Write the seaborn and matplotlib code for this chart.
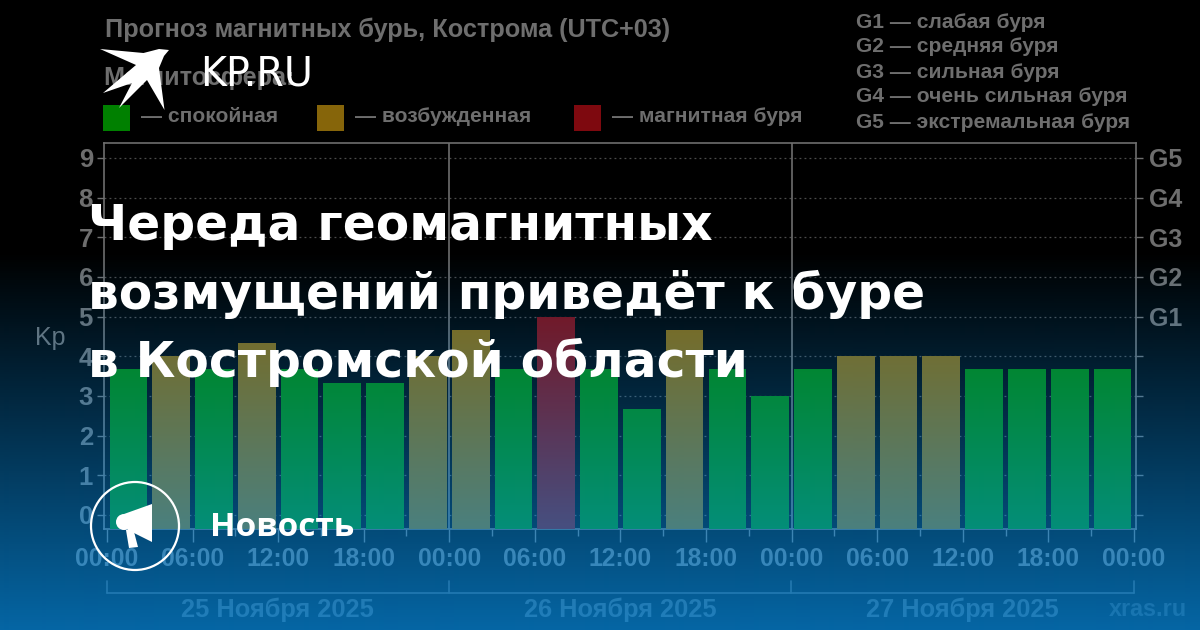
#!/usr/bin/env python3
"""Прогноз магнитных бурь, Кострома - обложка новости KP.RU"""

import numpy as np
import pandas as pd
import matplotlib.pyplot as plt
import seaborn as sns
from matplotlib.patches import Circle, Polygon, Rectangle

W, H = 1200, 630

# Данные графика
DAYS = ["25 Ноября 2025", "26 Ноября 2025", "27 Ноября 2025"]
HOURS = ["00:00", "03:00", "06:00", "09:00", "12:00", "15:00", "18:00", "21:00"]
KP = [3.67, 4.0, 3.67, 4.33, 3.67, 3.33, 3.33, 4.0,
      4.67, 3.67, 5.0, 3.67, 2.67, 4.67, 3.67, 3.0,
      3.67, 4.0, 4.0, 4.0, 3.67, 3.67, 3.67, 3.67]
STATUS = ["calm", "active", "calm", "active", "calm", "calm", "calm", "active",
          "active", "calm", "storm", "calm", "calm", "active", "calm", "calm",
          "calm", "active", "active", "active", "calm", "calm", "calm", "calm"]
KP_TICKS = [0, 1, 2, 3, 4, 5, 6, 7, 8, 9]
G_LABELS = ["", "", "", "", "", "G1", "G2", "G3", "G4", "G5"]
X_LABELS = ["00:00", "06:00", "12:00", "18:00"] * 3 + ["00:00"]
LEGEND = ["— спокойная", "— возбужденная", "— магнитная буря"]
G_NOTES = ["G1 — слабая буря", "G2 — средняя буря", "G3 — сильная буря",
           "G4 — очень сильная буря", "G5 — экстремальная буря"]
HEADLINE = ["Череда геомагнитных", "возмущений приведёт к буре", "в Костромской области"]

COLORS = {"calm": "#008000", "active": "#86650a", "storm": "#7e090f"}
GREY = "#6e6e6e"
DIM = "#484848"
KP_BASE = -0.353

sns.set_theme(style="dark")
plt.rcParams["font.family"] = ["Liberation Sans", "DejaVu Sans"]

fig = plt.figure(figsize=(W / 100, H / 100), dpi=100, facecolor="black")


def pixel_axes(zorder):
    """Оси на всю картинку в пикселях, начало сверху"""
    a = fig.add_axes([0, 0, 1, 1], zorder=zorder, facecolor="none")
    a.set_xlim(0, W)
    a.set_ylim(H, 0)
    a.axis("off")
    return a


# Подписи самого графика, под градиентом
under = pixel_axes(1)
under.text(105, 30, "Прогноз магнитных бурь, Кострома (UTC+03)", color=GREY,
           fontsize=18.2, fontweight="bold", va="center")
under.text(103, 78, "Магнитосфера:", color=GREY, fontsize=18.2, fontweight="bold", va="center")
for x_box, x_txt, key, label in zip([103, 317, 574], [141, 355, 612], COLORS, LEGEND):
    under.add_patch(Rectangle((x_box, 105), 27, 26, color=COLORS[key], lw=0))
    under.text(x_txt, 117, label, color=GREY, fontsize=15.1, fontweight="bold", va="center")
for y_txt, note in zip([22, 47, 72, 97, 122], G_NOTES):
    under.text(856, y_txt, note, color=GREY, fontsize=15.1, fontweight="bold", va="center")
under.text(50, 338, "Kp", color=GREY, fontsize=18, ha="center", va="center")
for x_txt, day in zip([277, 620, 962], DAYS):
    under.text(x_txt, 610, day, color=DIM, fontsize=18.3, fontweight="bold", ha="center", va="center")
under.text(1148, 610, "xras.ru", color="#343434", fontsize=16.8, fontweight="bold", ha="center", va="center")

# Скобки дат под осью
under.plot([107, 1134], [593, 593], color=DIM, lw=1.2)
for x_mark in [107, 449, 791, 1134]:
    under.plot([x_mark, x_mark], [581, 593], color=DIM, lw=1.2)

# Столбцы Kp
df = pd.DataFrame({
    "slot": [f"{d} {h}" for d in DAYS for h in HOURS],
    "kp": KP,
    "status": STATUS,
})
df["height"] = df["kp"] - KP_BASE

ax = fig.add_axes([104 / W, 1 - 529 / H, 1032 / W, 386 / H], zorder=2, facecolor="none")
sns.barplot(data=df, x="slot", y="height", hue="status", palette=COLORS, dodge=False,
            width=0.88, saturation=1, legend=False, bottom=KP_BASE, linewidth=0,
            edgecolor="none", ax=ax, zorder=3)
ax.set_xlim(-0.57, 23.55)
ax.set_ylim(KP_BASE, 9.378)
ax.set_xlabel("")
ax.set_ylabel("")
ax.grid(False)
ax.set_yticks(KP_TICKS)
ax.set_yticklabels(KP_TICKS, fontsize=18.5, fontweight="bold", color=GREY)
for k in KP_TICKS:
    ax.axhline(k, color="#4c4c4c", lw=0.9, ls=(0, (1.5, 2.5)), zorder=1)
major = np.arange(len(X_LABELS)) * 2 - 0.5
ax.set_xticks(major)
ax.set_xticklabels(X_LABELS, fontsize=17.7, fontweight="bold", color=GREY)
ax.set_xticks(major[:-1] + 1, minor=True)
ax.tick_params(axis="x", which="major", length=9.5, width=1, color=GREY, bottom=True, pad=3.5)
ax.tick_params(axis="x", which="minor", length=5, width=1, color=GREY, bottom=True)
ax.tick_params(axis="y", length=5, width=1, color=GREY, left=True, pad=3)
for boundary in major[[4, 8]]:
    ax.axvline(boundary, color=GREY, lw=1.2, zorder=4)
for s in ax.spines.values():
    s.set_color(GREY)
    s.set_linewidth(1.2)

ax_g = ax.twinx()
ax_g.set_zorder(2)
ax_g.set_ylim(ax.get_ylim())
ax_g.set_yticks(KP_TICKS)
ax_g.set_yticklabels(G_LABELS, fontsize=18, fontweight="bold", color=GREY)
ax_g.tick_params(axis="y", length=5, width=1, color=GREY, right=True, pad=4)
ax_g.grid(False)
for s in ax_g.spines.values():
    s.set_visible(False)

# Градиент: прозрачный сверху, синий снизу
overlay = pixel_axes(5)
alpha = np.clip((np.arange(H) - 250) / (H - 250), 0, 1) * 0.65
grad = np.zeros((H, 1, 4))
grad[..., 0] = 8 / 255
grad[..., 1] = 158 / 255
grad[..., 2] = 1.0
grad[:, 0, 3] = alpha
overlay.imshow(grad, extent=(0, W, H, 0), aspect="auto", interpolation="bilinear")
overlay.set_xlim(0, W)
overlay.set_ylim(H, 0)

# Логотип, заголовок, плашка поверх всего
top = pixel_axes(10)
bird = [(100, 49), (143.5, 53), (159, 49), (169, 50), (164, 56), (159, 68), (164.5, 110),
        (147, 80), (119, 108), (132, 83), (103, 93), (136, 65)]
top.add_patch(Polygon(bird, closed=True, color="white", lw=0))
top.text(200, 75, "KP.RU", color="white", family="DejaVu Sans", fontsize=28.5, va="center")
for y_base, line in zip([240, 309, 377], HEADLINE):
    top.text(88, y_base, line, color="white", family="DejaVu Sans", fontsize=35,
             fontweight="bold", va="baseline")
top.add_patch(Circle((135, 526), 44, fill=False, ec="white", lw=1.6))
top.add_patch(Circle((124, 522), 8, color="white", lw=0))
top.add_patch(Polygon([(152, 504), (152, 542), (128, 530), (124, 514)], closed=True, color="white", lw=0))
top.add_patch(Polygon([(126, 530), (133, 528), (138, 547), (129, 548)], closed=True, color="white", lw=0))
top.text(210, 527, "Новость", color="white", family="Open Sans", fontsize=24,
         fontweight="bold", va="center")

fig.savefig("out.png", dpi=100, facecolor="black")
